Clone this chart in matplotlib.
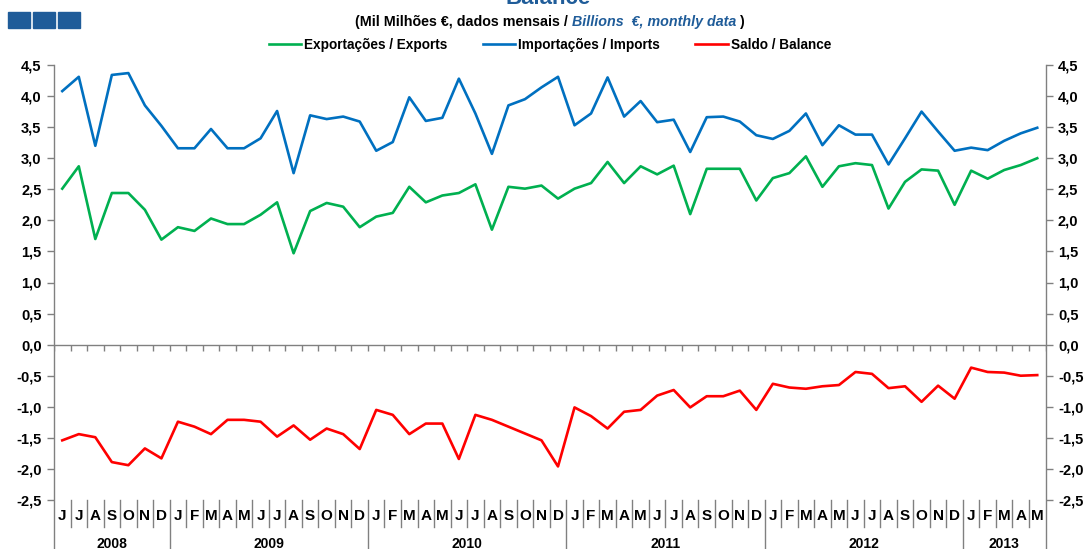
import numpy as np
import matplotlib
matplotlib.use("Agg")
import matplotlib.pyplot as plt
import matplotlib.transforms as mtransforms
from matplotlib.patches import Rectangle
from matplotlib.ticker import FuncFormatter

plt.rcParams["font.family"] = ["Liberation Sans", "DejaVu Sans"]
plt.rcParams["font.weight"] = "bold"

# Jun 2008 .. May 2013, monthly
months = list("JJASOND") + list("JFMAMJJASOND") * 4 + list("JFMAM")
years = ["2008", "2009", "2010", "2011", "2012", "2013"]
year_lengths = [7, 12, 12, 12, 12, 5]

exports = [
    2.51, 2.87, 1.70, 2.44, 2.44, 2.17, 1.69,
    1.89, 1.83, 2.03, 1.94, 1.94, 2.09, 2.29, 1.47, 2.15, 2.28, 2.22, 1.89,
    2.06, 2.12, 2.54, 2.29, 2.40, 2.44, 2.58, 1.85, 2.54, 2.51, 2.56, 2.35,
    2.51, 2.60, 2.94, 2.60, 2.87, 2.74, 2.88, 2.10, 2.83, 2.83, 2.83, 2.32,
    2.68, 2.76, 3.03, 2.54, 2.87, 2.92, 2.89, 2.19, 2.62, 2.82, 2.80, 2.25,
    2.80, 2.67, 2.81, 2.89, 3.00,
]
imports = [
    4.08, 4.31, 3.20, 4.34, 4.37, 3.85, 3.52,
    3.16, 3.16, 3.47, 3.16, 3.16, 3.32, 3.76, 2.76, 3.69, 3.63, 3.67, 3.59,
    3.12, 3.26, 3.98, 3.60, 3.65, 4.28, 3.72, 3.07, 3.85, 3.95, 4.14, 4.31,
    3.53, 3.72, 4.30, 3.67, 3.92, 3.58, 3.62, 3.10, 3.66, 3.67, 3.59, 3.37,
    3.31, 3.44, 3.72, 3.21, 3.53, 3.38, 3.38, 2.90, 3.32, 3.75, 3.43, 3.12,
    3.17, 3.13, 3.28, 3.40, 3.49,
]
balance = [
    -1.54, -1.44, -1.49, -1.89, -1.94, -1.67, -1.83,
    -1.24, -1.32, -1.44, -1.21, -1.21, -1.24, -1.48, -1.30, -1.53, -1.35, -1.44, -1.68,
    -1.05, -1.13, -1.44, -1.27, -1.27, -1.84, -1.13, -1.21, -1.32, -1.43, -1.54, -1.96,
    -1.01, -1.15, -1.35, -1.08, -1.05, -0.82, -0.73, -1.01, -0.83, -0.83, -0.74, -1.05,
    -0.63, -0.69, -0.71, -0.67, -0.65, -0.44, -0.47, -0.70, -0.67, -0.92, -0.66, -0.87,
    -0.37, -0.44, -0.45, -0.50, -0.49,
]

GREEN = "#00B050"
BLUE = "#0070C0"
RED = "#FF0000"
GRAY = "#808080"
NAVY = "#1F5C99"

x = np.arange(len(months))

fig = plt.figure(figsize=(10.89, 5.49), dpi=100)
ax = fig.add_axes([54 / 1089, 49 / 549, (1045.5 - 54) / 1089, 435 / 549])

ax.plot(x, exports, color=GREEN, lw=1.9, label="Exportações / Exports")
ax.plot(x, imports, color=BLUE, lw=1.9, label="Importações / Imports")
ax.plot(x, balance, color=RED, lw=1.9, label="Saldo / Balance")

ax.set_xlim(-0.5, len(months) - 0.5)
ax.set_ylim(-2.5, 4.5)
ax.set_yticks(np.arange(-2.5, 4.51, 0.5))
ax.yaxis.set_major_formatter(FuncFormatter(lambda v, p: f"{v:.1f}".replace(".", ",").replace("-0,0", "0,0")))
ax.tick_params(axis="y", which="both", labelsize=10.5, colors=GRAY, labelcolor="black",
               length=5, width=1, pad=4, left=True, right=True, labelleft=True, labelright=True)
ax.set_xticks([])

for side in ("top", "bottom", "left", "right"):
    ax.spines[side].set_visible(False)

trans = mtransforms.blended_transform_factory(ax.transData, ax.transAxes)
bottom = -49 / 435

# outer vertical axis lines running down to the figure edge
for xe in (-0.5, len(months) - 0.5):
    ax.plot([xe, xe], [bottom, 1], transform=trans, color=GRAY, lw=1, clip_on=False)

# zero line with tick marks at month boundaries
ax.axhline(0, color=GRAY, lw=1)
bounds = np.arange(-0.5, len(months), 1.0)
ax.vlines(bounds, -0.1, 0, color=GRAY, lw=1)

# month labels and separators
for i, m in enumerate(months):
    ax.text(i, -0.037, m, transform=trans, ha="center", va="center", fontsize=11,
            fontweight="bold")
year_edges = np.cumsum(year_lengths) - 0.5
for b in bounds[1:-1]:
    low = bottom if b in year_edges else -0.062
    ax.plot([b, b], [0, low], transform=trans, color=GRAY, lw=1, clip_on=False)

start = 0
for yr, n in zip(years, year_lengths):
    ax.text(start + (n - 1) / 2, -0.102, yr, transform=trans, ha="center", va="center",
            fontsize=10, fontweight="bold")
    start += n

# header
fig.text(0.503, 1 - 4 / 549, "Balance", ha="center", va="baseline", fontsize=16,
         fontweight="bold", color=NAVY)

renderer = fig.canvas.get_renderer()
parts = [
    ("(Mil Milhões €, dados mensais / ", "normal", "black"),
    ("Billions  €, monthly data", "italic", NAVY),
    (" )", "normal", "black"),
]
xpos = 355
for txt, sty, col in parts:
    t = fig.text(xpos / 1089, 1 - 22 / 549, txt, ha="left", va="center", fontsize=10.3,
                 fontweight="bold", style=sty, color=col)
    xpos += t.get_window_extent(renderer).width

for x0 in (8, 33, 58):
    fig.patches.append(Rectangle((x0 / 1089, 1 - 28 / 549), 22 / 1089, 16 / 549,
                                 transform=fig.transFigure, color=NAVY))

fig.legend(loc="center", bbox_to_anchor=(0.505, 1 - 45 / 549), ncol=3, frameon=False,
           handlelength=2.4, handletextpad=0.2, columnspacing=2.6,
           prop={"weight": "bold", "size": 9.8})

fig.savefig("out.png", dpi=100)
